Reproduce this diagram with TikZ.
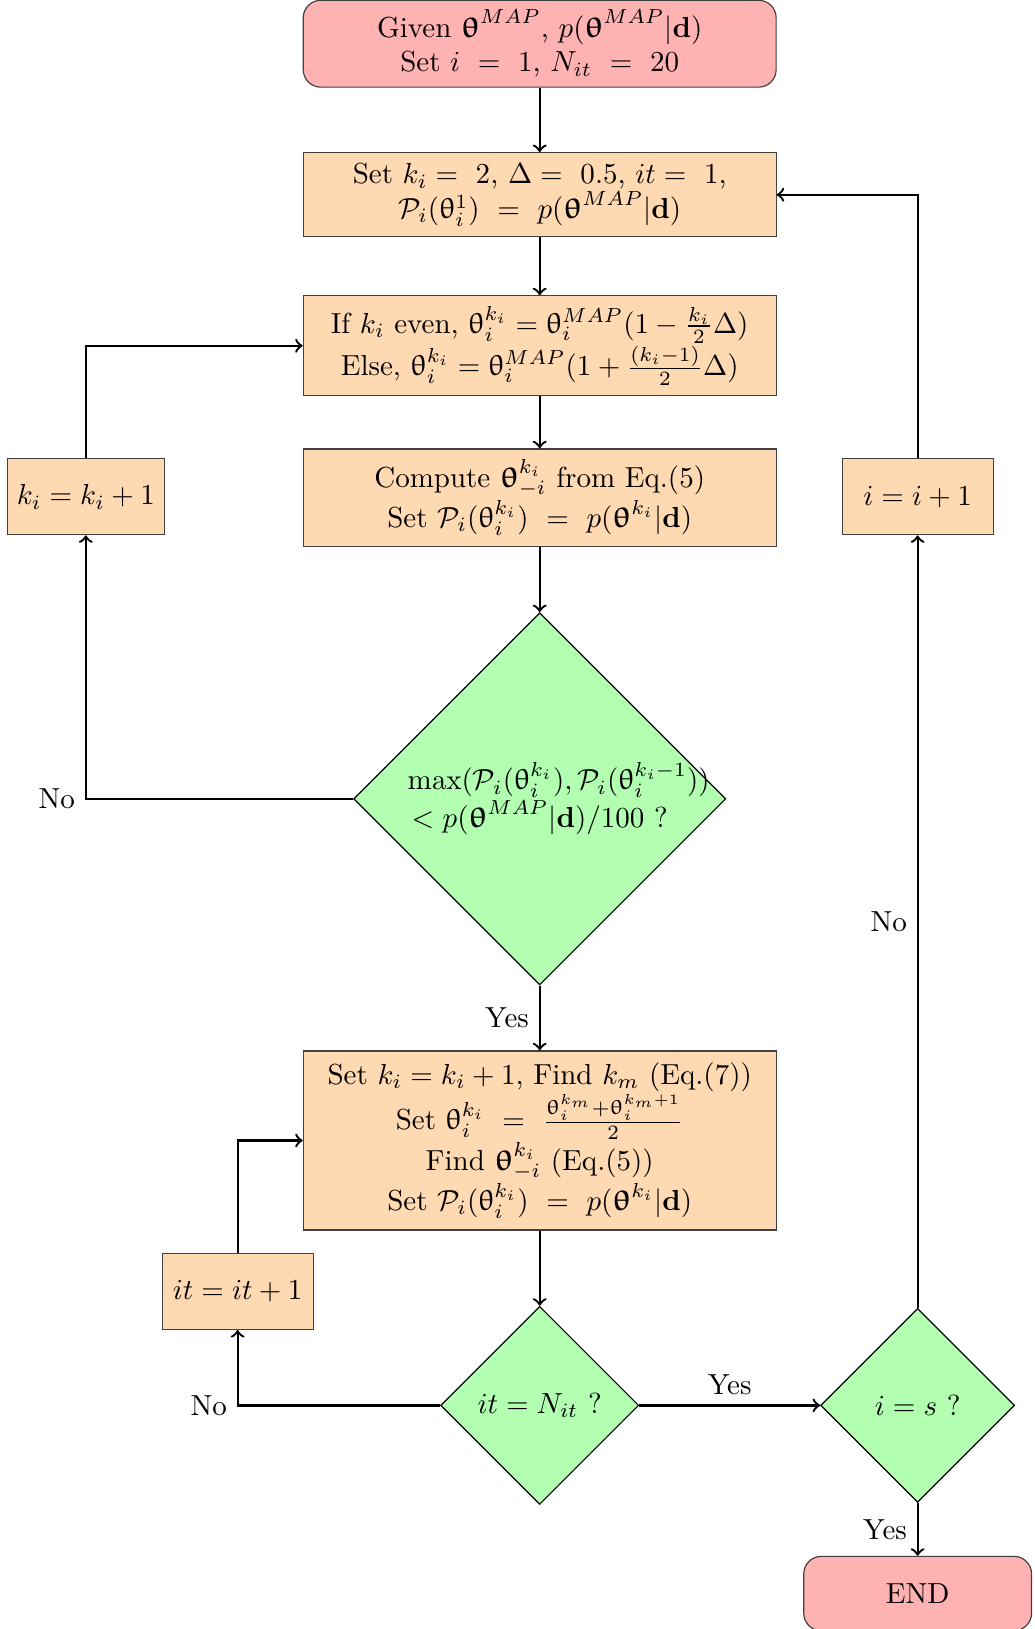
\documentclass[tikz,border=0pt]{standalone}
\usepackage{amsmath}
\usepackage{amssymb}
\usepackage{upgreek}
\usepackage{tikz}
\usetikzlibrary{shapes.geometric}
\usetikzlibrary{arrows}

\newcommand{\thv}{\uptheta}
\newcommand{\bth}{\boldsymbol{\uptheta}}

\begin{document}
\begin{tikzpicture}[
    termbox/.style={rectangle, rounded corners=6pt, draw=black!75, fill=red!30, align=center},
    procbox/.style={rectangle, draw=black!75, fill=orange!30, align=center},
    decbox/.style={diamond, aspect=1, draw=black, fill=green!30, align=center, inner sep=1pt},
    flow/.style={->, thick}
    ]
        \def\wMain{5.73cm}
        \def\wSide{1.83cm}
        \def\hSide{0.92cm}

        \useasboundingbox (0,0) rectangle (12.53,-19.74);

        \node[termbox, minimum width=\wMain, minimum height=1.04cm] (start) at (6.54,-0.53)
            {Given $\bth^{MAP}$, $p(\bth^{MAP}|\mathbf{d})$\\ Set $i\ =\ 1$, $N_{it}\ =\ 20$};
        \node[procbox, minimum width=\wMain, minimum height=1.02cm] (init) at (6.54,-2.36)
            {Set $k_i =\ 2$, $\Delta =\ 0.5$, $it =\ 1$,\\ $\mathcal{P}_i(\thv_i^1)\ =\ p(\bth^{MAP}|\mathbf{d})$};
        \node[procbox, minimum width=\wMain, minimum height=1.21cm] (trial) at (6.54,-4.19)
            {If $k_i$ even, $\thv_i^{k_i} = \thv_i^{MAP}(1-\frac{k_i}{2}\Delta)$\\ Else, $\thv_i^{k_i} = \thv_i^{MAP}(1+\frac{(k_i-1)}{2}\Delta)$};
        \node[procbox, minimum width=\wMain, minimum height=1.18cm] (comp) at (6.54,-6.03)
            {Compute $\bth_{-i}^{k_i}$ from Eq.(5)\\ Set $\mathcal{P}_i(\thv_i^{k_i})\ =\ p(\bth^{k_i}|\mathbf{d})$};
        \node[decbox, minimum width=4.51cm, minimum height=4.51cm, text width=3.2cm] (cond) at (6.54,-9.68)
            {$\max(\mathcal{P}_i(\thv_i^{k_i}),\mathcal{P}_i(\thv_i^{k_i-1}))$\\ $<p(\bth^{MAP}|\mathbf{d})/100$ ?};
        \node[procbox, minimum width=\wMain, minimum height=2.17cm] (refine) at (6.54,-13.82)
            {Set $k_i=k_i+1$, Find $k_m$ (Eq.(7))\\ Set $\thv_i^{k_i}\ =\ \frac{\thv_i^{k_m}+\thv_i^{k_m+1}}{2}$\\ Find $\bth_{-i}^{k_i}$ (Eq.(5))\\ Set $\mathcal{P}_i(\thv_i^{k_i})\ =\ p(\bth^{k_i}|\mathbf{d})$};
        \node[decbox, minimum width=2.4cm, minimum height=2.4cm] (itcheck) at (6.54,-17.03) {$it=N_{it}$ ?};
        \node[decbox, minimum width=2.35cm, minimum height=2.35cm] (icheck) at (11.12,-17.03) {$i=s$ ?};
        \node[termbox, minimum width=2.76cm, minimum height=0.9cm] (end) at (11.12,-19.31) {END};

        \node[procbox, minimum width=1.90cm, minimum height=\hSide] (kbox) at (1.04,-6.02) {$k_i=k_i+1$};
        \node[procbox, minimum width=\wSide, minimum height=\hSide] (ibox) at (11.12,-6.02) {$i=i+1$};
        \node[procbox, minimum width=\wSide, minimum height=\hSide] (itbox) at (2.88,-15.65) {$it=it+1$};

        \draw[flow] (start) -- (init);
        \draw[flow] (init) -- (trial);
        \draw[flow] (trial) -- (comp);
        \draw[flow] (comp) -- (cond);
        \draw[flow] (cond.west) -| (kbox.south) node[pos=0.5, left] {No};
        \draw[flow] (kbox.north) |- (trial.west);
        \draw[flow] (cond.south) -- (refine.north) node[midway, left] {Yes};
        \draw[flow] (refine) -- (itcheck);
        \draw[flow] (itcheck.west) -| (itbox.south) node[pos=0.5, left] {No};
        \draw[flow] (itbox.north) |- (refine.west);
        \draw[flow] (itcheck.east) -- (icheck.west) node[midway, above] {Yes};
        \draw[flow] (icheck.north) -- (ibox.south) node[midway, left] {No};
        \draw[flow] (ibox.north) |- (init.east);
        \draw[flow] (icheck.south) -- (end.north) node[midway, left] {Yes};

    \end{tikzpicture}
\end{document}
